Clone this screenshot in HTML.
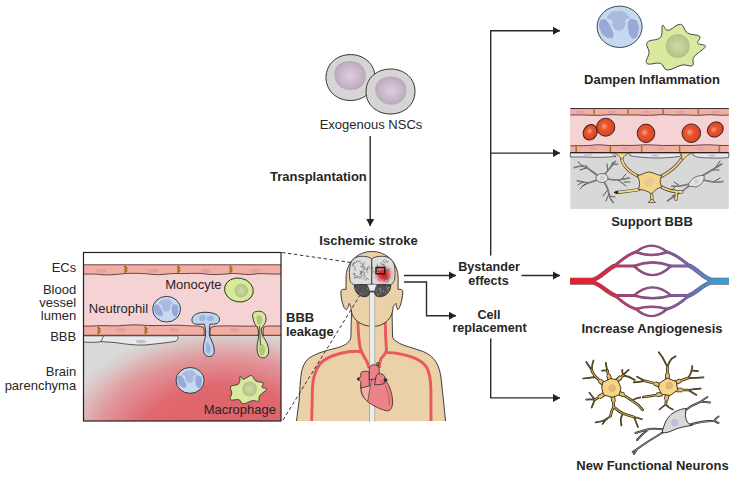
<!DOCTYPE html>
<html><head><meta charset="utf-8">
<style>
html,body{margin:0;padding:0;background:#fff;width:734px;height:479px;overflow:hidden}
svg{display:block}
text{font-family:"Liberation Sans",sans-serif;fill:#262626}
.b{font-weight:bold}
</style></head><body>
<svg width="734" height="479" viewBox="0 0 734 479">
<defs>
<marker id="ah" markerWidth="9" markerHeight="9" refX="7" refY="4.5" orient="auto" markerUnits="userSpaceOnUse">
<path d="M0,0.5 L7.2,4.5 L0,8.5 Z" fill="#222"/>
</marker>
<radialGradient id="nscn" cx="0.5" cy="0.5" r="0.5"><stop offset="0" stop-color="#dccedc"/><stop offset="0.7" stop-color="#c8b5c9"/><stop offset="1" stop-color="#bca7be"/></radialGradient>
<radialGradient id="redp" gradientUnits="userSpaceOnUse" cx="0" cy="0" r="1" gradientTransform="translate(224,443) scale(170,114)"><stop offset="0" stop-color="#de5e66"/><stop offset="0.5" stop-color="#e0686f"/><stop offset="0.75" stop-color="#e0979b"/><stop offset="0.92" stop-color="#dbc8c9"/><stop offset="1" stop-color="#d9d9d9"/></radialGradient>
<linearGradient id="vg" x1="570" y1="0" x2="729" y2="0" gradientUnits="userSpaceOnUse"><stop offset="0" stop-color="#ee1c25"/><stop offset="0.22" stop-color="#e0263e"/><stop offset="0.42" stop-color="#b43c7c"/><stop offset="0.58" stop-color="#9a4a9c"/><stop offset="0.75" stop-color="#7468b2"/><stop offset="0.88" stop-color="#4296cc"/><stop offset="1" stop-color="#35a2d2"/></linearGradient>
</defs>

<!-- ===== Arrows / lines ===== -->
<g stroke="#2b2b2b" stroke-width="1.4" fill="none">
<line x1="370.2" y1="136" x2="370.2" y2="226" marker-end="url(#ah)"/>
<line x1="404" y1="275.5" x2="456" y2="275.5" marker-end="url(#ah)"/>
<polyline points="404,282 426.5,282 426.5,315.8 456,315.8" marker-end="url(#ah)"/>
<line x1="521.5" y1="275.5" x2="560" y2="275.5" marker-end="url(#ah)"/>
<polyline points="490.7,255.5 490.7,30.7 560,30.7" marker-end="url(#ah)"/>
<line x1="490.7" y1="153.1" x2="560" y2="153.1" marker-end="url(#ah)"/>
<polyline points="490.7,338.4 490.7,397.9 560,397.9" marker-end="url(#ah)"/>
</g>

<!-- ===== NSCs ===== -->
<g stroke="#333" stroke-width="1">
<path d="M326,77.5 C326,64 337,54.6 350.5,54.6 C364,54.6 375,64 375,77.5 C375,91 364,100.5 350.5,100.5 C337,100.5 326,91 326,77.5 Z" fill="#d5d5d5"/>
<path d="M334.4,74 C334.4,66 341,61 350,61 C359,61 365.8,67 365.8,76 C365.8,85 359,90.1 350,90.1 C341,90.1 334.4,83 334.4,74 Z" fill="url(#nscn)" stroke="none"/>
<path d="M366,91.5 C366,78.5 376.5,69 390.5,69 C404.5,69 415,78.5 415,91.5 C415,104.5 404.5,114 390.5,114 C376.5,114 366,104.5 366,91.5 Z" fill="#d5d5d5"/>
<path d="M375.2,89 C375.2,81.5 382,76.5 391,76.5 C400,76.5 406.5,82 406.5,90 C406.5,99 400,104.7 391,104.7 C382,104.7 375.2,97.5 375.2,89 Z" fill="url(#nscn)" stroke="none"/>
</g>


<!-- ===== Left panel ===== -->
<g id="lp">
<rect x="83.5" y="252.5" width="197.5" height="168.5" fill="#fff"/>
<rect x="83.5" y="335" width="197.5" height="86" fill="#d8d8d8"/>
<rect x="83.5" y="335" width="197.5" height="86" fill="url(#redp)"/>
<!-- lumen -->
<rect x="83.5" y="273" width="197.5" height="54" fill="#f5d3d5"/>
<!-- top EC layer -->
<path d="M83.5,264.5 H281 V274 C270,274.5 262,273 256,274 C245,275.5 238,273 231,273.5 C222,274.5 212,275 206,274 C196,272.5 186,274 179,273.5 C170,273 160,275.5 153,274.5 C146,273.5 135,273 126,273.5 C115,274.5 108,275.5 100,274.5 C92,273.5 88,274.5 83.5,274 Z" fill="#f3aea3"/>
<path d="M83.5,274 C88,274.5 92,273.5 100,274.5 C108,275.5 115,274.5 126,273.5 C135,273 146,273.5 153,274.5 C160,275.5 170,273 179,273.5 C186,274 196,272.5 206,274 C212,275 222,274.5 231,273.5 C238,273 245,275.5 256,274 C262,273 270,274.5 281,274" fill="none" stroke="#3a2a2a" stroke-width="0.8"/>
<line x1="83.5" y1="264.8" x2="281" y2="264.8" stroke="#6b4f4f" stroke-width="1"/>
<!-- bottom EC layer -->
<path d="M83.5,326 C92,326.5 100,325 110,325.8 C120,326.5 130,324 140,325 C150,326 160,325.5 170,325.3 C180,325 190,326 196,326 L281,326 V335.3 H83.5 Z" fill="#f3aea3"/>
<path d="M83.5,326 C92,326.5 100,325 110,325.8 C120,326.5 130,324 140,325 C150,326 160,325.5 170,325.3 C180,325 190,326 196,326" fill="none" stroke="#3a2a2a" stroke-width="0.8"/>
<path d="M196,326 C200,326 202,326.5 203.5,328 M211,328 C213,326 216,326 221,326 C232,325.5 240,326.5 255,326 C256.5,326 257.5,326.5 258,328" fill="none" stroke="#3a2a2a" stroke-width="0.8"/>
<path d="M263.5,328 C264,326.5 266,326 269,326 C273,325.8 277,326.2 281,326" fill="none" stroke="#3a2a2a" stroke-width="0.8"/>
<line x1="83.5" y1="335.3" x2="281" y2="335.3" stroke="#3a3a3a" stroke-width="1"/>
<path d="M203.5,327.5 C204.5,330 204.5,333 203.8,335.3 M210.8,327.5 C209.8,330 209.8,333 210.5,335.3 M257.8,327.5 C258.6,330 258.6,333 258,335.3 M263.8,327.5 C263,330 263,333 263.6,335.3" fill="none" stroke="#3a2a2a" stroke-width="0.8"/>
<!-- glia endfoot -->
<path d="M83.5,335.8 H177 C179,337 178.5,340 175,341.5 C165,343 155,344 145,345 C135,345.5 125,344 115,342.5 C110,342 104,342 101,341.5 C98,342.5 90,342.5 83.5,342 Z" fill="#e9e9eb" stroke="#333" stroke-width="0.8"/>
<path d="M101,341.5 C103,339 102,337 104,336" fill="none" stroke="#333" stroke-width="0.7"/>
<ellipse cx="141" cy="341.5" rx="5" ry="1.8" fill="#c4c0d4"/>
<!-- EC nuclei -->
<g fill="#e39bab" opacity="0.85">
<ellipse cx="101.4" cy="270.8" rx="5.3" ry="2"/>
<ellipse cx="153" cy="270.8" rx="5.3" ry="2"/>
<ellipse cx="206" cy="270.8" rx="5.3" ry="2"/>
<ellipse cx="256" cy="270.8" rx="5.3" ry="2"/>
<ellipse cx="121" cy="330" rx="5.3" ry="2"/>
<ellipse cx="174.3" cy="330" rx="5.3" ry="2"/>
<ellipse cx="234.5" cy="330" rx="5.3" ry="2"/>
</g>
<!-- junctions -->
<g fill="none" stroke="#9a6a1a" stroke-width="1.4">
<path d="M125.8,265.5 l-1,1.3 l2,1.3 l-2,1.3 l2,1.3 l-2,1.3 l1,1.3"/>
<path d="M178.7,265.5 l-1,1.3 l2,1.3 l-2,1.3 l2,1.3 l-2,1.3 l1,1.3"/>
<path d="M231,265.5 l-1,1.3 l2,1.3 l-2,1.3 l2,1.3 l-2,1.3 l1,1.3"/>
<path d="M99,326.5 l-1,1.3 l2,1.3 l-2,1.3 l2,1.3 l-2,1.3 l1,1.3"/>
<path d="M146,326.5 l-1,1.3 l2,1.3 l-2,1.3 l2,1.3 l-2,1.3 l1,1.3"/>
</g>
<!-- neutrophil in lumen -->
<g transform="translate(166.6,309.2) scale(0.62) translate(-619.6,-26.8)"><ellipse cx="619.6" cy="26.8" rx="22.5" ry="20.7" fill="#c3daf0" stroke="#2a2a2a" stroke-width="1.45"/><path d="M607.3,18.4 C607.0,16.1 607.8,14.9 610.9,12.7 C614.0,10.5 613.7,11.3 617.5,11.0 C621.3,10.7 620.5,10.3 623.7,11.7 C626.9,13.1 626.6,13.8 628.3,15.8 C630.0,17.8 630.1,17.2 629.3,18.4 C628.5,19.6 627.1,17.5 625.7,19.9 C624.3,22.3 626.5,23.3 624.7,26.5 C622.9,29.7 623.0,30.3 619.6,30.6 C616.2,30.9 615.7,30.7 613.4,27.6 C611.1,24.5 613.7,23.2 611.9,20.4 C610.1,17.6 607.6,20.7 607.3,18.4 Z" fill="#abb9df"/><path d="M599.6,22.4 C600.5,19.3 600.9,19.7 603.2,19.4 C605.5,19.1 604.7,18.3 607.3,21.4 C609.9,24.5 610.1,25.3 611.9,29.6 C613.7,33.9 613.9,33.2 613.4,35.8 C612.9,38.4 613.2,38.3 610.4,38.3 C607.6,38.3 607.3,38.4 604.2,35.8 C601.1,33.2 601.5,33.6 600.1,29.6 C598.7,25.6 598.7,25.5 599.6,22.4 Z" fill="#9aa8d8"/><path d="M628.8,20.9 C630.5,17.8 631.1,18.6 633.9,19.4 C636.7,20.2 636.8,19.5 638.0,23.5 C639.2,27.5 638.9,28.3 638.0,32.7 C637.1,37.1 637.1,37.1 634.9,38.3 C632.7,39.5 632.8,39.4 630.8,36.8 C628.8,34.2 628.9,34.4 628.3,29.6 C627.7,24.8 627.1,24.0 628.8,20.9 Z" fill="#9aa8d8"/></g>
<!-- monocyte -->
<ellipse cx="238.9" cy="290" rx="14.5" ry="11.9" fill="#d7ea98" stroke="#2a2a2a" stroke-width="0.9" transform="rotate(12 238.9 290)"/>
<circle cx="241.3" cy="290.6" r="6.9" fill="url(#mn)"/>
<!-- transmigrating neutrophil -->
<path d="M192,321 C191,315 198,312 206,312.3 C214,312.5 220,315 219.5,320 C219,324 214,324.5 210,324 C209.5,328 209,333 209.5,336 C212,341 215,348 214,353 C213,357 207,358 204.5,354 C202,350 204,342 205.5,336 C206,332 205.5,327 204,324 C199,324.5 192.5,325 192,321Z" fill="#bcd5ee" stroke="#2a2a2a" stroke-width="0.9"/>
<path d="M199,318 C200,315 203,314.5 205,315.5 C206.5,317 205.5,320 203,321 C201,321.5 198.5,320 199,318Z M207,317.5 C209,315 213,315 214,317.5 C214.5,320 211,321.5 209,321 C207,320.5 206.5,319 207,317.5Z" fill="#9fb2dc"/>
<path d="M207,342 C209,343 211,347 210.5,351 C210,354 207.5,354.5 206.5,352 C205.5,349 205.5,344 207,342Z" fill="#9fb2dc"/>
<!-- transmigrating monocyte -->
<path d="M253,318 C251,312 256,311 259.5,311.3 C264,311.5 266.5,315 266,320 C265.5,324 263,326 261.5,328 C261,331 262,334 262.5,336 C266,340 269.5,347 268.5,353 C267.5,358 262,359.5 259,356 C256,352 257,344 258.5,338 C259,334 258.5,330 257.5,327 C255,325 253.5,322 253,318Z" fill="#d7e89c" stroke="#2a2a2a" stroke-width="0.9"/>
<path d="M256.5,318 C256.5,315 260,314.5 261.5,316.5 C263,319 262,323 260,325 C258,326 256.5,322 256.5,318Z M259.5,345 C261,343 264,344 265,348 C266,352 264,356 261.5,355.5 C259,355 258.5,349 259.5,345Z" fill="#b5c47e"/><path d="M259.5,326 L260.5,345" stroke="#2a2a2a" stroke-width="0.8"/>
<!-- neutrophil in parenchyma -->
<g transform="translate(190.1,380.4) scale(0.625) translate(-619.6,-26.8)"><ellipse cx="619.6" cy="26.8" rx="22.5" ry="20.7" fill="#c3daf0" stroke="#2a2a2a" stroke-width="1.44"/><path d="M607.3,18.4 C607.0,16.1 607.8,14.9 610.9,12.7 C614.0,10.5 613.7,11.3 617.5,11.0 C621.3,10.7 620.5,10.3 623.7,11.7 C626.9,13.1 626.6,13.8 628.3,15.8 C630.0,17.8 630.1,17.2 629.3,18.4 C628.5,19.6 627.1,17.5 625.7,19.9 C624.3,22.3 626.5,23.3 624.7,26.5 C622.9,29.7 623.0,30.3 619.6,30.6 C616.2,30.9 615.7,30.7 613.4,27.6 C611.1,24.5 613.7,23.2 611.9,20.4 C610.1,17.6 607.6,20.7 607.3,18.4 Z" fill="#abb9df"/><path d="M599.6,22.4 C600.5,19.3 600.9,19.7 603.2,19.4 C605.5,19.1 604.7,18.3 607.3,21.4 C609.9,24.5 610.1,25.3 611.9,29.6 C613.7,33.9 613.9,33.2 613.4,35.8 C612.9,38.4 613.2,38.3 610.4,38.3 C607.6,38.3 607.3,38.4 604.2,35.8 C601.1,33.2 601.5,33.6 600.1,29.6 C598.7,25.6 598.7,25.5 599.6,22.4 Z" fill="#9aa8d8"/><path d="M628.8,20.9 C630.5,17.8 631.1,18.6 633.9,19.4 C636.7,20.2 636.8,19.5 638.0,23.5 C639.2,27.5 638.9,28.3 638.0,32.7 C637.1,37.1 637.1,37.1 634.9,38.3 C632.7,39.5 632.8,39.4 630.8,36.8 C628.8,34.2 628.9,34.4 628.3,29.6 C627.7,24.8 627.1,24.0 628.8,20.9 Z" fill="#9aa8d8"/></g>
<!-- macrophage -->
<g transform="translate(248.6,389.65) scale(0.62) translate(-676.1,-47.15)"><path d="M662.5,25.4 C664.0,24.0 664.4,30.5 668.0,30.3 C671.6,30.1 676.6,23.8 680.5,24.3 C684.4,24.8 683.7,30.6 687.5,33.0 C691.3,35.4 697.4,34.2 699.5,36.3 C701.6,38.4 696.6,41.2 697.8,43.3 C699.0,45.4 706.2,43.9 705.4,46.6 C704.6,49.3 696.6,53.1 694.0,56.9 C691.4,60.7 694.8,64.0 692.4,65.6 C690.0,67.2 687.0,64.1 682.0,65.0 C677.0,65.9 671.7,70.3 667.4,70.0 C663.1,69.7 664.5,64.7 660.4,63.4 C656.3,62.1 649.1,65.6 646.8,63.4 C644.5,61.2 648.9,56.8 649.0,52.6 C649.1,48.4 645.0,45.3 647.3,42.3 C649.6,39.3 657.4,40.8 660.4,37.4 C663.4,34.0 661.0,26.8 662.5,25.4 Z" fill="#d9eaa0" stroke="#333" stroke-width="1.45" stroke-linejoin="round"/><circle cx="677.7" cy="46" r="12" fill="url(#mn)"/></g>
<rect x="83.5" y="252.5" width="197.5" height="168.5" fill="none" stroke="#222" stroke-width="1.2"/>
<text x="276" y="414.4" font-size="13" text-anchor="end">Macrophage</text>
<text x="221.6" y="289.3" font-size="13" text-anchor="end">Monocyte</text>
<text x="88.8" y="312.9" font-size="13">Neutrophil</text>
</g>



<!-- ===== Human figure ===== -->
<g id="human">
<path d="M296.5,421 L299.2,400 C300,390 300,380 301.5,372 C303,365 306,360 310,357.6 C316,353.5 326,350.5 335,348.4 C341,346.8 346,345 348.5,342 C350.5,340 350.9,338 350.9,336 L351.5,310 L392,310 L392.5,336 C392.5,338 394,340.5 396.7,341.5 C400,344 404,345.5 408.4,346.7 C414,348.5 419,350 423.4,351.7 C428,353.5 433,357 436,362 C439,367 440.5,373 441.2,379 C442,386 442.5,393 443.4,400 L445.5,421 Z" fill="#ebd1a7"/><path d="M296.5,421 L299.2,400 C300,390 300,380 301.5,372 C303,365 306,360 310,357.6 C316,353.5 326,350.5 335,348.4 C341,346.8 346,345 348.5,342 C350.5,340 350.9,338 350.9,336 L351.5,310 M392,310 L392.5,336 C392.5,338 394,340.5 396.7,341.5 C400,344 404,345.5 408.4,346.7 C414,348.5 419,350 423.4,351.7 C428,353.5 433,357 436,362 C439,367 440.5,373 441.2,379 C442,386 442.5,393 443.4,400 L445.5,421" fill="none" stroke="#2a2a2a" stroke-width="0.9"/>
<!-- arteries -->
<g fill="none" stroke="#e8585c" stroke-width="2.9" stroke-linecap="butt">
<path d="M357.6,312 C358,330 358.5,342 360.5,349 C362,354 365,358 367,362 C368,364.5 368.5,366 369,368"/>
<path d="M385,312 C385.3,330 385.8,342 386.5,350 C386,354 382,357 380.8,359 C379.8,362 379.4,365 379.2,368"/>
<path d="M362,351.7 C357,351 348,351.5 340,353.5 C332,355.5 324,359 320,364 C315,370 313,378 312.5,387 L311.7,421"/>
<path d="M387,352.6 C392,352.5 403,354 413.4,357.6 C420,360 424,363 427,368 C430,374 430.8,382 430.9,390 L431,421"/>
</g>
<path d="M371.8,251.5 C387,251.5 398.1,263 398.1,278 L398.1,289.4 C400.5,289 403,289.5 402.8,292 C402.5,297 401.5,303 399.5,307.5 C398.8,309 398,309.8 397.6,309.5 C396.5,307 396,304.5 395.8,303.4 C394.5,305 393.3,306 393.1,307 C393,311 391.5,316 389,319 C385,323.5 380,326.3 373,326.4 C366,326.4 361,324 357.7,321.6 C354,318.5 351.8,315 351.4,311 C351,309 350.8,307.5 350.6,306.5 C350,305 349.5,304 349.3,303.4 C348.5,306 347.5,309 346.6,309.6 C345.5,309.5 344.5,308.5 343.8,307 C342,303 341,297 340.8,292 C340.6,289.5 343,289 346,289.4 L346,278 C346,263 357,251.5 371.8,251.5 Z" fill="#ebd1a7" stroke="#2a2a2a" stroke-width="0.9"/>



<!-- spinal cord -->
<path d="M369.6,290 L369.6,421.5 M374.6,290 L374.6,421.5" fill="none" stroke="#5a5a5a" stroke-width="0.8"/><rect x="369.6" y="290" width="5" height="131" fill="#ececec"/>
<!-- brain -->
<path d="M371.8,259 C370,257 366,256.2 361,256.3 C355,256.5 351,260 350,266 C349.3,270 349.3,275 349.8,279 C350.3,283 353,285.3 357.5,285.3 C363,285.3 368,285 371.8,284 Z" fill="#dedede" stroke="#2a2a2a" stroke-width="0.8"/>
<path d="M371.8,259 C373.6,257 377.6,256.2 382.8,256.3 C389,256.5 393.5,260 394.5,266 C395.2,270 395.2,275 394.6,279 C394,283 391,285.3 386.5,285.3 C380.6,285.3 375.6,285 371.8,284 Z" fill="#dedede" stroke="#2a2a2a" stroke-width="0.8"/>

<radialGradient id="les" cx="0.5" cy="0.5" r="0.5"><stop offset="0" stop-color="#e8101a"/><stop offset="0.4" stop-color="#ea1e26" stop-opacity="0.85"/><stop offset="0.7" stop-color="#ee4a50" stop-opacity="0.35"/><stop offset="1" stop-color="#f06a70" stop-opacity="0"/></radialGradient>
<circle cx="383.5" cy="274.5" r="11" fill="url(#les)"/><path d="M352.3,266.1 Q353.5,264.9 353.4,264.0 Q353.2,263.1 354.1,263.1 Q355.0,263.2 355.9,263.1 M352.9,274.8 Q353.6,273.2 354.4,273.6 Q355.2,274.0 355.6,273.2 M356.6,262.9 Q356.0,261.2 356.8,260.9 Q357.7,260.6 358.1,261.3 Q358.6,262.1 359.4,261.7 Q360.3,261.4 360.1,260.5 M355.4,267.9 Q354.3,266.5 353.5,266.0 Q352.8,265.5 353.0,264.7 Q353.2,263.8 353.6,263.0 Q354.0,262.2 354.6,261.5 M355.8,270.5 Q354.1,270.0 354.5,269.2 Q354.9,268.4 355.7,268.0 M355.3,275.7 Q357.1,275.8 357.8,276.4 Q358.4,277.1 359.3,276.8 Q360.1,276.6 360.7,277.4 Q361.2,278.1 361.5,278.9 M355.6,278.1 Q354.2,276.9 354.5,276.0 Q354.7,275.2 354.6,274.3 Q354.6,273.4 353.7,273.2 M360.2,263.1 Q361.8,262.3 362.0,263.2 Q362.2,264.0 362.9,264.6 Q363.7,265.1 364.2,264.4 M360.2,266.1 Q361.8,266.9 362.6,266.6 Q363.5,266.3 364.3,266.6 Q365.2,266.8 364.8,267.6 M359.7,270.7 Q361.3,271.5 361.2,272.3 Q361.0,273.2 361.2,274.1 Q361.4,275.0 360.6,275.4 M360.4,274.2 Q361.3,272.7 362.1,272.3 Q362.9,271.8 363.8,272.1 Q364.7,272.3 364.4,273.2 Q364.2,274.0 364.1,274.9 M359.5,278.6 Q358.2,277.4 357.3,277.3 Q356.4,277.3 355.6,277.6 Q354.7,277.9 353.8,277.9 M364.9,262.0 Q363.9,263.5 363.2,264.1 Q362.5,264.6 362.2,265.5 Q362.0,266.4 362.2,267.2 Q362.4,268.1 363.1,268.7 M363.7,267.2 Q365.3,268.0 365.3,268.9 Q365.3,269.8 364.4,269.7 Q363.5,269.5 362.9,268.9 M363.3,271.0 Q361.5,271.0 361.1,271.8 Q360.6,272.6 360.4,273.4 Q360.2,274.3 359.5,274.8 M363.2,274.6 Q362.7,276.4 361.8,276.3 Q360.9,276.3 360.5,277.2 M363.7,279.3 Q363.7,277.5 364.5,277.1 Q365.3,276.6 364.8,275.9 Q364.2,275.2 365.0,274.7 M367.6,267.6 Q366.5,269.1 366.7,269.9 Q366.8,270.8 366.7,271.7 Q366.6,272.6 367.5,272.6 M367.8,270.4 Q367.9,268.6 367.7,267.7 Q367.5,266.8 368.4,266.7 Q369.3,266.6 369.5,267.5 Q369.6,268.3 370.5,268.7 M368.8,279.7 Q367.6,278.3 366.7,278.4 Q365.8,278.4 366.0,279.3 Q366.1,280.2 365.4,280.7 M372.7,267.0 Q372.7,268.8 373.0,269.7 M373.7,270.7 Q373.8,272.5 373.1,273.0 M377.3,263.5 Q377.1,265.3 377.3,266.2 Q377.5,267.1 377.7,267.9 Q378.0,268.8 377.4,269.5 Q376.8,270.2 377.6,270.6 M376.6,266.3 Q378.0,267.4 378.5,266.7 Q379.0,266.0 379.9,265.8 M377.5,271.0 Q379.2,271.8 379.7,272.5 Q380.2,273.3 380.4,274.1 M377.2,274.4 Q378.6,275.6 379.0,274.8 Q379.4,274.0 380.3,273.8 M378.1,279.1 Q379.5,280.2 379.4,281.1 M381.3,262.0 Q380.5,263.6 381.2,264.1 Q382.0,264.5 382.9,264.8 Q383.8,265.0 384.7,265.0 M382.3,267.9 Q380.5,267.4 379.8,267.9 Q379.0,268.4 378.4,269.0 Q377.7,269.6 378.1,270.4 Q378.6,271.2 378.1,271.9 M381.8,271.8 Q380.2,271.0 379.3,271.2 Q378.4,271.4 377.5,271.5 Q376.6,271.6 376.2,270.9 Q375.7,270.1 375.9,269.2 M381.4,274.5 Q382.5,276.0 383.3,275.6 Q384.1,275.1 384.6,275.8 Q385.2,276.6 386.1,276.3 Q386.9,276.1 386.6,275.3 M382.2,278.2 Q383.1,276.7 383.9,276.4 Q384.8,276.1 385.2,275.3 Q385.6,274.5 385.3,273.6 Q385.1,272.7 384.2,272.9 M386.0,259.9 Q385.7,261.7 386.5,262.1 Q387.3,262.6 387.8,261.9 Q388.3,261.1 388.9,261.8 M385.8,262.9 Q384.1,262.3 383.4,261.7 Q382.8,261.1 383.4,260.4 Q384.0,259.7 384.7,259.2 M386.4,266.8 Q384.8,267.5 384.5,266.6 Q384.2,265.8 383.7,265.1 Q383.2,264.3 382.9,263.5 M385.7,271.8 Q385.9,270.1 386.8,270.0 Q387.7,270.0 387.9,269.1 M384.7,275.5 Q385.5,277.1 385.7,278.0 Q385.8,278.9 385.0,279.3 Q384.2,279.6 384.3,280.5 Q384.5,281.4 383.9,282.1 M384.8,279.0 Q386.5,278.5 387.2,279.1 Q387.9,279.8 388.1,280.6 Q388.3,281.5 387.5,281.9 Q386.7,282.4 385.8,282.5 M389.7,271.8 Q388.5,270.4 388.6,269.5 Q388.7,268.6 389.6,268.5 M389.3,275.5 Q389.9,277.2 389.1,277.6 Q388.3,278.0 387.4,278.0 Q386.5,278.0 386.1,277.2 M388.6,278.4 Q387.1,279.4 387.4,280.2" fill="none" stroke="#4a4a4a" stroke-width="0.55"/>
<path d="M354.3,285 C354.5,292 359,297 365,296.7 C368,296.6 369.4,295 369.4,292 L374.8,292 C374.8,295 376,296.6 379,296.7 C386,297 390.6,292 390.8,285 C385,284 378,284.5 372,285.5 C366,284.5 360,284 354.3,285 Z" fill="#505050" stroke="#222" stroke-width="0.8"/>
<path d="M385.6,293.6 l1.3,0.7 M366.1,293.4 l-0.8,-1.3 M357.4,290.5 l-0.8,0.1 M356.2,288.1 l-0.7,1.2 M378.1,293.6 l-1.1,0.4 M357.6,295.2 l-1.5,0.8 M366.5,288.7 l1.4,0.1 M358.2,295.2 l-0.9,1.4 M379.9,289.4 l-1.0,-1.1 M360.0,293.8 l0.3,0.3 M376.9,289.4 l-0.6,0.6 M361.8,292.7 l-1.3,1.4 M367.4,289.4 l-0.3,0.1 M380.8,291.5 l-1.5,-1.4 M363.5,295.1 l-1.1,-0.8 M380.5,289.4 l0.1,0.8 M363.1,293.4 l-0.4,-0.6 M388.3,286.9 l-0.5,0.3 M360.1,294.8 l0.1,-0.6 M380.0,293.6 l0.4,0.7 M389.0,287.5 l-1.4,1.5 M376.4,293.0 l-0.5,-0.7 M377.9,295.3 l0.4,0.9 M386.9,287.2 l0.7,1.3 M377.4,290.1 l-1.1,1.0 M377.8,294.8 l0.4,-1.0 M388.5,292.5 l-0.5,-0.7 M381.2,287.4 l-0.4,1.5 M363.5,290.7 l-0.5,-1.2 M382.7,291.2 l0.0,-1.3 M385.0,292.3 l0.8,-0.4 M386.9,288.5 l1.4,0.6 M384.4,291.5 l-1.5,0.1 M380.2,288.6 l-0.6,0.0 M380.5,292.1 l0.7,1.0 M388.0,287.6 l1.1,-0.2 M388.4,290.9 l0.1,-1.0 M388.2,290.5 l0.6,0.7 M378.2,293.4 l0.2,0.5 M379.9,291.3 l1.1,-0.7" stroke="#b0b0b0" stroke-width="0.6" fill="none"/>
<path d="M367.3,284.3 C367.5,286.5 369.4,288 369.4,291 L374.8,291 C374.8,288 376.7,286.5 376.9,284.3 Z" fill="#ececec" stroke="#5a5a5a" stroke-width="0.7"/>
<rect x="376" y="267.5" width="8.7" height="6.2" fill="none" stroke="#1a1a1a" stroke-width="1.4"/>
<!-- heart -->
<g stroke="#2a2a2a" stroke-width="0.8" stroke-linejoin="round">
<path d="M361,388 C360.5,381 364,377 371,376 C377,375 383,377 386,381 C390,386 392.6,395 392.6,402 C392.6,408 390,411.5 386.5,410.8 C379,409 369,404 364,398 C361.3,394.5 360.8,391 361,388 Z" fill="#ec8389"/>
<path d="M361,388 C362,383 366,379 372,378 C370,386 369,395 367.7,401.5 C364,399 361.5,394 361,388 Z" fill="#f4b0a8" stroke-width="0.6"/>
<path d="M360.8,388 L360.8,374 C360.8,372 362.5,371.3 364.5,371.3 L367,371.3 C368.5,371.3 369.3,372.3 369.3,374 L369.3,386 Z" fill="#ec8389"/>
<ellipse cx="359.2" cy="379" rx="1.8" ry="1.5" fill="#3a2a2a"/>
<path d="M359.5,377.5 L362,377.5 L362,381 L359.5,381 Z" fill="#ec8389" stroke="none"/>
<path d="M369.3,380 L369.3,369 C369.3,365.5 372,364.6 374.5,364.8 C377.5,365 379.2,366.5 379.2,369.5 L379.2,378 Z" fill="#ec8389"/>
<path d="M376.5,365 L377,362.5 L379,363 L378.5,366 Z" fill="#ec8389"/>
<path d="M374.5,385 L376.2,376 C377,373.3 381.5,372.8 384,375.5 C385.6,377.2 385.4,380.5 383.6,384 Z" fill="#ec8389"/>
<ellipse cx="385.5" cy="380" rx="1.6" ry="1.4" fill="#3a2a2a"/>
</g>
<path d="M385,385 C388,392 390,398 389,405 M380,380 C382,383 384,384 386,383" fill="none" stroke="#a03a44" stroke-width="0.6"/>
</g>

<!-- ===== Dampen inflammation ===== -->
<g id="dampen">
<ellipse cx="619.6" cy="26.8" rx="22.5" ry="20.7" fill="#c3daf0" stroke="#333" stroke-width="0.9"/>
<path d="M607.3,18.4 C607.0,16.1 607.8,14.9 610.9,12.7 C614.0,10.5 613.7,11.3 617.5,11.0 C621.3,10.7 620.5,10.3 623.7,11.7 C626.9,13.1 626.6,13.8 628.3,15.8 C630.0,17.8 630.1,17.2 629.3,18.4 C628.5,19.6 627.1,17.5 625.7,19.9 C624.3,22.3 626.5,23.3 624.7,26.5 C622.9,29.7 623.0,30.3 619.6,30.6 C616.2,30.9 615.7,30.7 613.4,27.6 C611.1,24.5 613.7,23.2 611.9,20.4 C610.1,17.6 607.6,20.7 607.3,18.4 Z" fill="#abb9df"/><path d="M599.6,22.4 C600.5,19.3 600.9,19.7 603.2,19.4 C605.5,19.1 604.7,18.3 607.3,21.4 C609.9,24.5 610.1,25.3 611.9,29.6 C613.7,33.9 613.9,33.2 613.4,35.8 C612.9,38.4 613.2,38.3 610.4,38.3 C607.6,38.3 607.3,38.4 604.2,35.8 C601.1,33.2 601.5,33.6 600.1,29.6 C598.7,25.6 598.7,25.5 599.6,22.4 Z" fill="#9aa8d8"/><path d="M628.8,20.9 C630.5,17.8 631.1,18.6 633.9,19.4 C636.7,20.2 636.8,19.5 638.0,23.5 C639.2,27.5 638.9,28.3 638.0,32.7 C637.1,37.1 637.1,37.1 634.9,38.3 C632.7,39.5 632.8,39.4 630.8,36.8 C628.8,34.2 628.9,34.4 628.3,29.6 C627.7,24.8 627.1,24.0 628.8,20.9 Z" fill="#9aa8d8"/>
<path id="mac" d="M662.5,25.4 C664.0,24.0 664.4,30.5 668.0,30.3 C671.6,30.1 676.6,23.8 680.5,24.3 C684.4,24.8 683.7,30.6 687.5,33.0 C691.3,35.4 697.4,34.2 699.5,36.3 C701.6,38.4 696.6,41.2 697.8,43.3 C699.0,45.4 706.2,43.9 705.4,46.6 C704.6,49.3 696.6,53.1 694.0,56.9 C691.4,60.7 694.8,64.0 692.4,65.6 C690.0,67.2 687.0,64.1 682.0,65.0 C677.0,65.9 671.7,70.3 667.4,70.0 C663.1,69.7 664.5,64.7 660.4,63.4 C656.3,62.1 649.1,65.6 646.8,63.4 C644.5,61.2 648.9,56.8 649.0,52.6 C649.1,48.4 645.0,45.3 647.3,42.3 C649.6,39.3 657.4,40.8 660.4,37.4 C663.4,34.0 661.0,26.8 662.5,25.4 Z" fill="#d9eaa0" stroke="#333" stroke-width="0.9" stroke-linejoin="round"/>
<radialGradient id="mn" cx="0.5" cy="0.5" r="0.5"><stop offset="0" stop-color="#cfdba4"/><stop offset="0.8" stop-color="#bac78c"/><stop offset="1" stop-color="#b3c086"/></radialGradient>
<circle cx="677.7" cy="46" r="12" fill="url(#mn)"/>
</g>

<!-- ===== Support BBB ===== -->
<g id="bbb">
<rect x="570.3" y="108" width="158.5" height="101" fill="#d8d8d8"/>
<rect x="570.3" y="114" width="158.5" height="32.5" fill="#f5d3d5"/>
<path d="M570.3,108.3 H728.8 V115 C720,116 712,114 704,115 C695,116 688,114.5 680,115 C672,115.5 664,114 655,115 C646,116 638,114.5 630,115 C620,115.5 612,114 604,115 C595,116 585,114.5 570.3,115 Z" fill="#f3aea3"/>
<path d="M570.3,115 C585,114.5 595,116 604,115 C612,114 620,115.5 630,115 C638,114.5 646,116 655,115 C664,114 672,115.5 680,115 C688,114.5 695,116 704,115 C712,114 720,116 728.8,115" fill="none" stroke="#3a2a2a" stroke-width="0.8"/>
<line x1="570.3" y1="108.5" x2="728.8" y2="108.5" stroke="#333" stroke-width="1"/>
<path d="M570.3,145.8 C580,145.5 588,146 594,145 C600,144 606,146 615,145.5 C625,145 632,146 640,145 C650,144 660,146 670,145.5 C680,145 690,146 700,145 C710,144 720,146 728.8,145.5 V152.3 H570.3 Z" fill="#f3aea3"/>
<path d="M570.3,145.8 C580,145.5 588,146 594,145 C600,144 606,146 615,145.5 C625,145 632,146 640,145 C650,144 660,146 670,145.5 C680,145 690,146 700,145 C710,144 720,146 728.8,145.5" fill="none" stroke="#3a2a2a" stroke-width="0.8"/>
<line x1="570.3" y1="152.5" x2="728.8" y2="152.5" stroke="#1a1a1a" stroke-width="1.1"/>
<!-- endfeet -->
<path d="M570.3,153 H612 C613,155 614,156 616,156.5 C605,157.5 595,157.5 585,157 C578,156.8 574,157.2 570.3,157 Z" fill="#e8e8ea" stroke="#333" stroke-width="0.7"/>
<path d="M630,153 H680 C681,155 681,156 680,156.5 C668,158 655,158.5 645,157.5 C638,157 633,156.5 630,155.5 Z" fill="#e8e8ea" stroke="#333" stroke-width="0.7"/>
<path d="M693,153 H728.8 V157.5 C720,158.5 710,158 700,157.5 C696,157 694,156 693,155 Z" fill="#e8e8ea" stroke="#333" stroke-width="0.7"/>
<g fill="#c8c8d6"><ellipse cx="588" cy="155" rx="4" ry="1.3"/><ellipse cx="655" cy="155.5" rx="4" ry="1.3"/><ellipse cx="712" cy="155.5" rx="4" ry="1.3"/></g>
<g fill="#e39bab" opacity="0.8">
<ellipse cx="579.7" cy="112" rx="3.8" ry="1.5"/><ellipse cx="611.9" cy="112" rx="3.8" ry="1.5"/><ellipse cx="646.4" cy="112" rx="3.8" ry="1.5"/><ellipse cx="680.8" cy="112" rx="3.8" ry="1.5"/><ellipse cx="715.3" cy="112" rx="3.8" ry="1.5"/>
<ellipse cx="593.1" cy="148.5" rx="3.8" ry="1.5"/><ellipse cx="625.3" cy="148.5" rx="3.8" ry="1.5"/><ellipse cx="660.9" cy="148.5" rx="3.8" ry="1.5"/><ellipse cx="700.6" cy="148.5" rx="3.8" ry="1.5"/>
</g>
<g stroke="#a87820" stroke-width="1.6">
<line x1="594" y1="108.8" x2="594" y2="114.5"/><line x1="628.2" y1="108.8" x2="628.2" y2="114.5"/><line x1="663.2" y1="108.8" x2="663.2" y2="114.5"/><line x1="698.3" y1="108.8" x2="698.3" y2="114.5"/>
<line x1="576.2" y1="146" x2="576.2" y2="152"/><line x1="610.3" y1="146" x2="610.3" y2="152"/><line x1="641.7" y1="146" x2="641.7" y2="152"/><line x1="679.6" y1="146" x2="679.6" y2="152"/><line x1="719.4" y1="146" x2="719.4" y2="152"/>
</g>
<!-- RBCs -->
<radialGradient id="rbc" cx="0.42" cy="0.45" r="0.6"><stop offset="0" stop-color="#f7a58c"/><stop offset="0.35" stop-color="#e8552e"/><stop offset="1" stop-color="#d9401f"/></radialGradient>
<g stroke="#2a1a1a" stroke-width="0.9" fill="url(#rbc)">
<ellipse cx="590.2" cy="132.3" rx="6.8" ry="8" transform="rotate(30 590.2 132.3)"/>
<ellipse cx="605.7" cy="127.2" rx="9.1" ry="9"/>
<ellipse cx="646" cy="133.3" rx="8.8" ry="9.2"/>
<ellipse cx="691.3" cy="133.2" rx="9.3" ry="9.3"/>
<ellipse cx="715.3" cy="129.5" rx="8.3" ry="7.2" transform="rotate(-35 715.3 129.5)"/>
</g>
<!-- gray cells -->
<g fill="none" stroke-linecap="round">
<path d="M598,176 Q592,171 590,170 Q586,167 583,166 Q578,166 574,167.6 M597,180 Q592,182 588,183 Q582,182 577.2,180.8 M605,174 Q608,170 610,168 Q613,164 615.6,161.3 M607,179 Q613,180 618,180 Q624,179 629.4,178 M604,182 Q607,186 608,190 Q609,194 609.9,197.5 Q611,200 613.3,202.6 M702,176 Q707,173 712,170 Q717,167 721.7,164 M703,180 Q708,181 713,182 Q718,182 723,181.4 M690,184 Q685,185 680,186 Q676,186 671.7,186.2 M689,186 Q684,190 678,194 Q673,197 667.5,200.8" stroke="#555" stroke-width="1.5"/>
<path d="M590,170 Q587,167 585.8,165.3 M583,166 Q580,164 578,162 M586,168 Q583,169 580,170 M588,183 Q585,185 582.3,186 M583,182 Q580,183 578,185 M585,184 Q582,187 580,189 M610,168 Q612,165 613,162 M612,165 Q615,164 618,164 M608,170 Q607,167 607,164 M618,180 Q622,183 626,186 M622,179 Q624,176 626,174 M624,182 Q627,182 630,182 M608,190 Q605,193 603,196 M609,194 Q607,198 606,201 M610,196 Q613,197 615,197 M712,170 Q716,170 719,170 M716,167 Q718,164 720,161 M713,182 Q717,180 720,178 M680,186 Q677,184 674,182 M676,186 Q674,188 672,190 M678,194 Q675,195 672,196" stroke="#555" stroke-width="1"/>
<path d="M598,176 Q592,171 590,170 Q586,167 583,166 Q578,166 574,167.6 M597,180 Q592,182 588,183 Q582,182 577.2,180.8 M605,174 Q608,170 610,168 Q613,164 615.6,161.3 M607,179 Q613,180 618,180 Q624,179 629.4,178 M604,182 Q607,186 608,190 Q609,194 609.9,197.5 Q611,200 613.3,202.6 M702,176 Q707,173 712,170 Q717,167 721.7,164 M703,180 Q708,181 713,182 Q718,182 723,181.4 M690,184 Q685,185 680,186 Q676,186 671.7,186.2 M689,186 Q684,190 678,194 Q673,197 667.5,200.8" stroke="#cfcfcf" stroke-width="0.4"/>
</g>
<ellipse cx="602" cy="178" rx="6" ry="4.5" fill="#e2e2e4" stroke="#555" stroke-width="0.8"/>
<circle cx="602" cy="178" r="2.5" fill="#cfcfd6"/>
<path d="M688,186 C690,179 696,175 704,175.5 C705,180 702,185 696,187 Z" fill="#e2e2e4" stroke="#555" stroke-width="0.8"/>
<circle cx="696.5" cy="181.5" r="2.4" fill="#cfcfd6"/>
<!-- yellow astrocyte -->
<g fill="none" stroke-linecap="round">
<path d="M621.7,156 C621,163 627,171 638,176 M682.5,158 C677,166 670,172 661,176.5 M639,189.5 C632,191 624,191.5 617,192.5 M651.5,193 L652.1,201 M661.5,187 C667,190 672,192 681.9,192 M676.5,192 L676,199.5" stroke="#4a4028" stroke-width="3.2"/>
<path d="M621.7,156 C621,163 627,171 638,176 M682.5,158 C677,166 670,172 661,176.5 M639,189.5 C632,191 624,191.5 617,192.5 M651.5,193 L652.1,201 M661.5,187 C667,190 672,192 681.9,192 M676.5,192 L676,199.5" stroke="#f3d488" stroke-width="1.9"/>
</g>
<path d="M613.9,153 H629.4 C626,154.5 623.5,156 622.6,159 L620.8,159 C620,156 617,154.5 613.9,153 Z M680.6,153 H692.3 C689,154.5 686,156 683.5,159.5 L681.5,159 C682,156.5 682,154.5 680.6,153 Z" fill="#f3d488" stroke="#4a4028" stroke-width="0.7"/>
<path d="M648,202.5 L652,199 L655.5,202.5 Z" fill="#f3d488" stroke="#4a4028" stroke-width="0.7"/>
<path d="M637.2,175.5 C641,175.5 645,172 649,172 C653,172 657,175.5 661.8,175.5 C660,179 659.5,183 661.8,187 C657,188 654,191 651.5,194 C648,191 643,189.5 638.5,189.5 C640,185 640,180 637.2,175.5 Z" fill="#f3d488" stroke="#4a4028" stroke-width="0.9" stroke-linejoin="round"/>
<circle cx="648.5" cy="182" r="4.8" fill="#e6c890" opacity="0.85"/>
<path d="M614,192.5 L617.5,191 L618,193.5 Z" fill="#222" stroke="#222" stroke-width="1"/>
</g>

<!-- ===== Angiogenesis ===== -->
<g id="angio" fill="none" stroke-linecap="round">
<g stroke="#4a3048" stroke-opacity="0.8">
<path d="M570,281.2 H593 M711,281.2 H729" stroke-width="7" stroke-linecap="butt"/>
<path d="M590,281 C600,279 606,270 614,266 M590,281.4 C600,283 606,292 615,295.5 M714,281 C704,279 698,270 690,266 M714,281.4 C704,283 698,292 689,295.5" stroke-width="4.4"/>
<path d="M614,266 C622,260 628,254 636,252 M614,266 H634 M615,295.5 H634 M615,295.5 C622,302 628,307 636,309 M690,266 C682,260 676,254 667,252 M690,266 H671 M689,295.5 H671 M689,295.5 C682,302 676,307 667,309" stroke-width="3.0"/>
<path d="M636,252 C646,243.7 657,243.7 667,252 M636,252 C646,256 657,256 667,252 M634,266 C646,261.3 659,261.3 671,266 M634,266 C646,278 659,278 671,266 M634,295.5 C646,284.8 659,284.8 671,295.5 M634,295.5 C646,299.2 659,299.2 671,295.5 M636,309 C646,306.1 657,306.1 667,309 M636,309 C646,318.3 657,318.3 667,309" stroke-width="2.5"/>
</g>
<g stroke="url(#vg)">
<path d="M570,281.2 H593 M711,281.2 H729" stroke-width="5.8" stroke-linecap="butt"/>
<path d="M590,281 C600,279 606,270 614,266 M590,281.4 C600,283 606,292 615,295.5 M714,281 C704,279 698,270 690,266 M714,281.4 C704,283 698,292 689,295.5" stroke-width="3.1"/>
<path d="M614,266 C622,260 628,254 636,252 M614,266 H634 M615,295.5 H634 M615,295.5 C622,302 628,307 636,309 M690,266 C682,260 676,254 667,252 M690,266 H671 M689,295.5 H671 M689,295.5 C682,302 676,307 667,309" stroke-width="1.9"/>
<path d="M636,252 C646,243.7 657,243.7 667,252 M636,252 C646,256 657,256 667,252 M634,266 C646,261.3 659,261.3 671,266 M634,266 C646,278 659,278 671,266 M634,295.5 C646,284.8 659,284.8 671,295.5 M634,295.5 C646,299.2 659,299.2 671,295.5 M636,309 C646,306.1 657,306.1 667,309 M636,309 C646,318.3 657,318.3 667,309" stroke-width="1.3"/>
</g>
</g>

<!-- ===== Neurons ===== -->
<g id="neurons" fill="none" stroke-linecap="round" stroke-linejoin="round">
<path d="M602.7,383.2 Q598,379 595.7,376.9 Q592,372 591.7,369.9 M609.8,379.3 Q608,374 607.4,370.7 M617.6,380 Q621,377 623.1,375.4 M602.7,394.9 Q598,398 594.9,399.6 M612.9,397.3 Q613.5,402 613.7,406.7 M620,393.4 Q626,396 631.7,400.4 Q638,404 642.6,409.8 M613.7,406.7 Q611,412 610.5,416.1 M613.7,406.7 Q618,411 623,413.5 Q630,416 634,417 M667.4,378.1 Q667.4,372 667.4,366.9 M676.3,382.3 Q682,380 688.1,378.1 M677.7,390 Q683,390 688.1,390 M658.8,385.1 Q651,382 644.8,380.9 M660.9,394.2 Q652,396 643.4,397 M667.2,395.6 Q666,400 665.8,404.6" stroke="#2e2616" stroke-width="2.7"/>
<path d="M595.7,376.9 Q589,378 583.1,378.5 M591.7,369.9 Q588,365 586.3,362 M591.7,369.9 Q592,364 593.5,360.5 M607.4,370.7 Q606,366 605.8,362.8 M607.4,370.7 Q604,370 601.9,370.7 M623.1,375.4 Q622,372 622.3,369.9 M623.1,375.4 Q626,372 628.6,369.9 M623.1,375.4 Q629,376 634.8,380 M594.9,399.6 Q590,399 586.3,399.6 M594.9,399.6 Q591,395 589.4,392.6 M594.9,399.6 Q593,404 591.7,407.5 M610.5,416.1 Q606,419 603.5,420.8 Q599,422 595.7,422.3 M610.5,416.1 Q605,420 602.7,423.9 M623,413.5 Q621,417 620.7,419.2 Q621,423 621.5,425.5 M634,417 Q638,418 641.9,419.2 M634,417 Q636,422 638,427 M631.7,400.4 Q636,398 640.3,397.3 M667.4,366.9 Q664,360 662,356.5 Q660,354 658.8,352.2 M667.4,366.9 Q670,360 672,358.5 Q674,357 675.6,356.4 M688.1,378.1 Q691,374 691.6,370.4 Q692,368 692.3,366.2 M691.6,370.4 Q695,371 697.9,371.1 M688.1,378.1 Q696,378 703.5,377.4 M688.1,390 Q694,389 700.7,388.6 M688.1,390 Q693,393 696.5,394.9 M644.8,380.9 Q639,382 633.6,382.3 M644.8,380.9 Q640,378 637.1,376.7 M665.8,404.6 Q662,407 659.5,409.5 M665.8,404.6 Q669,408 672.8,409.5" stroke="#2e2616" stroke-width="1.7"/>
<path d="M602.7,383.2 Q598,379 595.7,376.9 Q592,372 591.7,369.9 M609.8,379.3 Q608,374 607.4,370.7 M617.6,380 Q621,377 623.1,375.4 M602.7,394.9 Q598,398 594.9,399.6 M612.9,397.3 Q613.5,402 613.7,406.7 M620,393.4 Q626,396 631.7,400.4 Q638,404 642.6,409.8 M613.7,406.7 Q611,412 610.5,416.1 M613.7,406.7 Q618,411 623,413.5 Q630,416 634,417 M667.4,378.1 Q667.4,372 667.4,366.9 M676.3,382.3 Q682,380 688.1,378.1 M677.7,390 Q683,390 688.1,390 M658.8,385.1 Q651,382 644.8,380.9 M660.9,394.2 Q652,396 643.4,397 M667.2,395.6 Q666,400 665.8,404.6" stroke="#d4ad4c" stroke-width="1.1"/>
<path d="M595.7,376.9 Q589,378 583.1,378.5 M591.7,369.9 Q588,365 586.3,362 M591.7,369.9 Q592,364 593.5,360.5 M607.4,370.7 Q606,366 605.8,362.8 M607.4,370.7 Q604,370 601.9,370.7 M623.1,375.4 Q622,372 622.3,369.9 M623.1,375.4 Q626,372 628.6,369.9 M623.1,375.4 Q629,376 634.8,380 M594.9,399.6 Q590,399 586.3,399.6 M594.9,399.6 Q591,395 589.4,392.6 M594.9,399.6 Q593,404 591.7,407.5 M610.5,416.1 Q606,419 603.5,420.8 Q599,422 595.7,422.3 M610.5,416.1 Q605,420 602.7,423.9 M623,413.5 Q621,417 620.7,419.2 Q621,423 621.5,425.5 M634,417 Q638,418 641.9,419.2 M634,417 Q636,422 638,427 M631.7,400.4 Q636,398 640.3,397.3 M667.4,366.9 Q664,360 662,356.5 Q660,354 658.8,352.2 M667.4,366.9 Q670,360 672,358.5 Q674,357 675.6,356.4 M688.1,378.1 Q691,374 691.6,370.4 Q692,368 692.3,366.2 M691.6,370.4 Q695,371 697.9,371.1 M688.1,378.1 Q696,378 703.5,377.4 M688.1,390 Q694,389 700.7,388.6 M688.1,390 Q693,393 696.5,394.9 M644.8,380.9 Q639,382 633.6,382.3 M644.8,380.9 Q640,378 637.1,376.7 M665.8,404.6 Q662,407 659.5,409.5 M665.8,404.6 Q669,408 672.8,409.5" stroke="#b89438" stroke-width="0.4"/>
<path d="M603.8,384.2 L599.3,380.2 M610.3,380.7 L608.4,375.0 M616.5,381.0 L621.0,377.0 M604.0,394.1 L598.9,397.4 M612.7,395.8 L613.5,401.8 M618.6,392.8 L624.1,395.2 M667.4,379.6 L667.4,373.6 M674.9,382.9 L680.5,380.6 M676.2,390.0 L682.2,390.0 M660.2,385.7 L654.6,383.4 M662.4,393.9 L656.5,395.1 M667.6,394.2 L666.0,399.9" stroke="#2e2616" stroke-width="4.6" stroke-linecap="butt"/><path d="M603.8,384.2 L599.3,380.2 M610.3,380.7 L608.4,375.0 M616.5,381.0 L621.0,377.0 M604.0,394.1 L598.9,397.4 M612.7,395.8 L613.5,401.8 M618.6,392.8 L624.1,395.2 M667.4,379.6 L667.4,373.6 M674.9,382.9 L680.5,380.6 M676.2,390.0 L682.2,390.0 M660.2,385.7 L654.6,383.4 M662.4,393.9 L656.5,395.1 M667.6,394.2 L666.0,399.9" stroke="#e6c068" stroke-width="3" stroke-linecap="butt"/>
<path d="M602.7,382.4 L610.5,378.5 L617.6,380 L621,387.9 L619.2,394.9 L612.1,397.3 L603.5,394.9 L601.9,388.7 Z" fill="#f6d585" stroke="#2e2616" stroke-width="0.9"/>
<circle cx="612.1" cy="388.2" r="3.3" fill="#e3b97a" stroke="#d6a868" stroke-width="0.7"/>
<path d="M659.5,383 L667.2,378.1 L676.3,381.6 L677.7,390 L670,395.6 L661.6,394.2 L658.8,388.6 Z" fill="#f6d585" stroke="#2e2616" stroke-width="0.9"/>
<circle cx="669.3" cy="385.6" r="3.3" fill="#e3b97a" stroke="#d6a868" stroke-width="0.7"/>
<!-- gray neuron -->
<path d="M684.3,411 Q692,405 700.6,401.8 Q704,399 707.4,397 M700.6,401.8 Q706,402 710,402.5 M689.5,424.8 Q702,421 714.2,420.8 Q716,418 718.5,416.5 M714.2,420.8 Q716,422 718.5,423 M664.6,429.6 Q657,428.5 649,429 Q642,431 635.4,433 M649,429 Q642,434 637,440 M663.5,432 Q648,441 632.7,452 M637,449.5 Q635,452 634,454" stroke="#2a2a2a" stroke-width="2.0"/>
<path d="M684.3,411 Q692,405 700.6,401.8 Q704,399 707.4,397 M700.6,401.8 Q706,402 710,402.5 M689.5,424.8 Q702,421 714.2,420.8 Q716,418 718.5,416.5 M714.2,420.8 Q716,422 718.5,423 M664.6,429.6 Q657,428.5 649,429 Q642,431 635.4,433 M649,429 Q642,434 637,440 M663.5,432 Q648,441 632.7,452 M637,449.5 Q635,452 634,454" stroke="#c8c8c8" stroke-width="0.6"/>
<g transform="translate(675,422) scale(1.12) translate(-675,-422)"><path d="M663.5,431.5 C665,424 668,417 674,413.5 C678,411 682,410 685,410 C684,414 684,419 686,422 C687,423.5 688.5,424.5 690.5,425 C684,426 678,427 673,429.5 C670,431 666.5,432 663.5,431.5 Z" fill="#d9d9d9" stroke="#2a2a2a" stroke-width="0.85"/></g>
<circle cx="674.8" cy="422.6" r="3.7" fill="#bdbdd4"/>
</g>

<!-- dashed -->
<g stroke="#333" stroke-width="1" stroke-dasharray="3.5,2.5" fill="none">
<line x1="282" y1="252.5" x2="351" y2="262.5"/>
<line x1="283" y1="420" x2="359.5" y2="296"/>
</g>
<!-- ===== Texts ===== -->
<text x="371" y="128.5" font-size="13" text-anchor="middle">Exogenous NSCs</text>
<text x="270" y="180.8" font-size="13" class="b">Transplantation</text>
<text x="368.5" y="244.8" font-size="13" class="b" text-anchor="middle">Ischemic stroke</text>
<text x="489" y="270.8" font-size="12.6" class="b" text-anchor="middle">Bystander</text>
<text x="488.5" y="284.8" font-size="12.6" class="b" text-anchor="middle">effects</text>
<text x="489" y="318.7" font-size="12.6" class="b" text-anchor="middle">Cell</text>
<text x="489.5" y="332" font-size="12.6" class="b" text-anchor="middle">replacement</text>
<text x="652" y="84.4" font-size="13" class="b" text-anchor="middle">Dampen Inflammation</text>
<text x="652" y="226" font-size="13" class="b" text-anchor="middle">Support BBB</text>
<text x="652" y="332.5" font-size="13" class="b" text-anchor="middle">Increase Angiogenesis</text>
<text x="652.5" y="469.5" font-size="13" class="b" text-anchor="middle">New Functional Neurons</text>
<text x="286" y="322.4" font-size="13" class="b">BBB</text>
<text x="286" y="335.5" font-size="13" class="b">leakage</text>

<g font-size="13" text-anchor="end">
<text x="76.2" y="272.2">ECs</text>
<text x="76.2" y="293.7">Blood</text>
<text x="76.2" y="306.8">vessel</text>
<text x="76.2" y="319.6">lumen</text>
<text x="76.2" y="341">BBB</text>
<text x="76.2" y="376.3">Brain</text>
<text x="76.2" y="390.2">parenchyma</text>
</g>

</svg>
</body></html>
